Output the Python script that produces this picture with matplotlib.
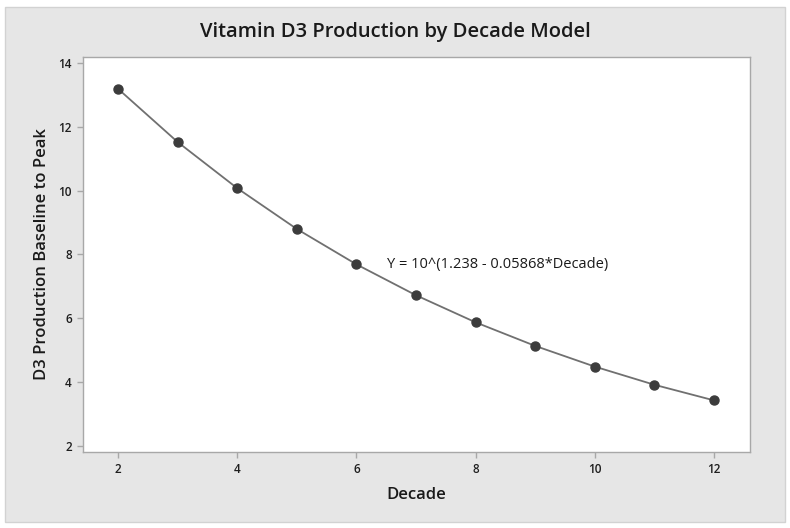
import matplotlib as mpl
mpl.use('Agg')
import matplotlib.pyplot as plt
import matplotlib.ticker as tick
from matplotlib.patches import Rectangle

#--------------------------------------------------------------------------------------------------------

decade = [2, 3, 4, 5, 6, 7, 8, 9, 10, 11, 12]
d3Peak = [13.20, 11.53, 10.08, 8.80, 7.69, 6.72, 5.87, 5.13, 4.48, 3.91, 3.42]
xTicks = [2, 4, 6, 8, 10, 12]
yTicks = [2, 4, 6, 8, 10, 12, 14]
title  = "Vitamin D3 Production by Decade Model"
eqText = "Y = 10^(1.238 - 0.05868*Decade)"

#--------------------------------------------------------------------------------------------------------

plt.rcParams['font.family'] = ['Open Sans', 'DejaVu Sans']

fig = plt.figure(figsize=(7.9, 5.28), dpi=100)
fig.patch.set_facecolor('white')
fig.patches.append(Rectangle((0.006, 0.012), 0.988, 0.975, transform=fig.transFigure,
                             facecolor='#e6e6e6', edgecolor='#d2d2d2', linewidth=1.0, zorder=-10))

ax1 = fig.add_axes([0.105, 0.144, 0.844, 0.748])
ax1.set_facecolor('white')

ax1.plot(decade, d3Peak, color='#707070', linewidth=1.3, zorder=2)
ax1.plot(decade, d3Peak, linestyle='none', marker='o', markersize=6.5,
         markerfacecolor='#3c3c3c', markeredgecolor='#3c3c3c', zorder=3)

ax1.text(6.52, 7.68, eqText, fontsize=10.5, color='#1a1a1a', va='center', ha='left')

ax1.set_xlim(1.41, 12.6)
ax1.set_ylim(1.8, 14.2)
ax1.xaxis.set_major_locator(tick.FixedLocator(xTicks))
ax1.yaxis.set_major_locator(tick.FixedLocator(yTicks))

for s in ax1.spines.values():
    s.set_color('#a8a8a8')
    s.set_linewidth(1.0)
ax1.tick_params(direction='out', length=4, width=1, color='#a8a8a8', labelcolor='#1e1e1e',
                labelsize=8.5, pad=4)
for lb in ax1.get_xticklabels() + ax1.get_yticklabels():
    lb.set_fontweight('semibold')

ax1.set_xlabel("Decade", fontsize=12, fontweight='semibold', color='#1a1a1a', labelpad=8)
ax1.set_ylabel("D3 Production Baseline to Peak", fontsize=12, fontweight='semibold', color='#1a1a1a', labelpad=6)

fig.text(0.5, 0.94, title, ha='center', va='center', fontsize=14.5, fontweight='semibold', color='#1a1a1a')

plt.savefig("out.png", dpi=100)
